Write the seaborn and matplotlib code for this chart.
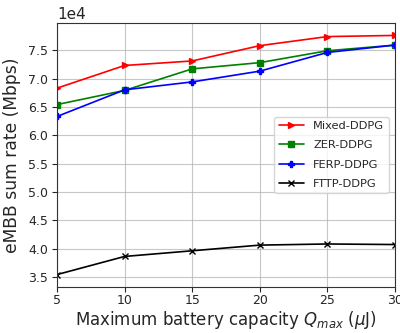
import matplotlib
matplotlib.use('Agg')
import matplotlib.pyplot as plt
import pandas as pd
import seaborn as sns

# battery capacity (uJ)
q_max = [5, 10, 15, 20, 25, 30]

# eMBB sum rate, in units of 1e4 Mbps
mixed_ddpg = [6.83, 7.23, 7.31, 7.58, 7.74, 7.76]
zer_ddpg = [6.54, 6.79, 7.17, 7.28, 7.49, 7.59]
ferp_ddpg = [6.33, 6.80, 6.94, 7.13, 7.46, 7.59]
fttp_ddpg = [3.54, 3.86, 3.96, 4.06, 4.08, 4.07]

series_names = ['Mixed-DDPG', 'ZER-DDPG', 'FERP-DDPG', 'FTTP-DDPG']
series_vals = [mixed_ddpg, zer_ddpg, ferp_ddpg, fttp_ddpg]

sns.set_style('ticks')
plt.rcParams['font.family'] = ['DejaVu Sans']

fig = plt.figure(figsize=(4.0, 3.33), dpi=100)
ax = fig.add_axes([0.1425, 0.138, 0.845, 0.793])

colors = ['red', 'green', 'blue', 'black']
markers = ['>', 's', 'P', 'x']
for name, vals, c, m in zip(series_names, series_vals, colors, markers):
    df = pd.DataFrame({'q': q_max, 'rate': [v * 1e4 for v in vals]})
    sns.lineplot(data=df, x='q', y='rate', color=c, marker=m, markersize=5,
                 linewidth=1.2, markeredgewidth=1, markeredgecolor=c, label=name, ax=ax)

ax.set_xlim(5, 30)
ax.set_ylim(3.32e4, 7.98e4)
ax.set_xticks(q_max)
ax.set_yticks([3.5e4, 4.0e4, 4.5e4, 5.0e4, 5.5e4, 6.0e4, 6.5e4, 7.0e4, 7.5e4])
ax.ticklabel_format(axis='y', style='sci', scilimits=(4, 4))
ax.yaxis.get_offset_text().set_fontsize(11)
ax.tick_params(labelsize=9, pad=3)
ax.tick_params(axis='x', pad=1.5)
ax.grid(True, color='#b0b0b0', linewidth=0.8, alpha=0.7)
for s in ax.spines.values():
    s.set_color('#333333')

ax.set_xlabel(r'Maximum battery capacity $Q_{max}$ ($\mu$J)', fontsize=12, labelpad=1.5)
ax.set_ylabel('eMBB sum rate (Mbps)', fontsize=12.3, labelpad=5)

ax.legend(loc='center right', bbox_to_anchor=(0.998, 0.5), fontsize=8.2,
          handlelength=2.2, labelspacing=0.8, frameon=True)

fig.savefig('out.png', dpi=100)
